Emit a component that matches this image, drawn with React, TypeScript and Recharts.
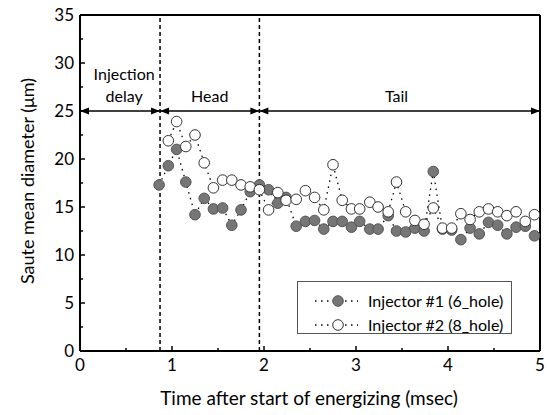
import React from 'react';
import { ComposedChart, Line, XAxis, YAxis, ReferenceLine, ReferenceDot, Legend, Label } from 'recharts';

const timeMs = [0.86, 0.96, 1.05, 1.15, 1.25, 1.35, 1.45, 1.55, 1.65, 1.75, 1.85, 1.95, 2.05, 2.15, 2.24, 2.35, 2.45, 2.55, 2.65, 2.75, 2.85, 2.95, 3.04, 3.15, 3.24, 3.35, 3.44, 3.54, 3.64, 3.74, 3.84, 3.94, 4.04, 4.14, 4.24, 4.34, 4.44, 4.54, 4.64, 4.74, 4.84, 4.94];
const injector1 = [17.3, 19.3, 21.0, 17.6, 14.2, 15.9, 14.8, 14.9, 13.1, 14.7, 16.6, 17.3, 16.8, 15.4, 16.0, 13.0, 13.5, 13.6, 12.7, 13.5, 13.5, 12.9, 13.5, 12.7, 12.7, 14.1, 12.5, 12.4, 12.8, 12.5, 18.7, 12.7, 12.6, 11.6, 12.8, 12.2, 13.4, 13.1, 12.2, 12.9, 13.0, 12.0];
const injector2 = [null, 21.9, 23.9, 21.3, 22.5, 19.6, 17.0, 17.8, 17.8, 17.3, 17.1, 16.8, 14.7, 16.5, 15.7, 15.8, 16.7, 16.0, 14.7, 19.4, 15.7, 14.8, 14.8, 15.5, 15.0, 14.5, 17.6, 14.5, 13.6, 13.2, 14.9, 12.8, 12.8, 14.3, 13.7, 14.5, 14.8, 14.5, 14.1, 14.5, 13.5, 14.2];
const seriesNames = ['Injector #1 (6_hole)', 'Injector #2 (8_hole)'];
const xTicks = [0, 0.5, 1, 1.5, 2, 2.5, 3, 3.5, 4, 4.5, 5];
const yTicks = [0, 2.5, 5, 7.5, 10, 12.5, 15, 17.5, 20, 22.5, 25, 27.5, 30, 32.5, 35];
const phaseBounds = [0, 0.87, 1.95, 5];
const arrowLevel = 25;
const phaseTexts = [
  { x: 0.48, y: 28.85, text: 'Injection' },
  { x: 0.48, y: 26.55, text: 'delay' },
  { x: 1.41, y: 26.55, text: 'Head' },
  { x: 3.44, y: 26.55, text: 'Tail' },
];

const data = timeMs.map((t, i) => ({ t, a: injector1[i], b: injector2[i] }));

const FONT = 'Lato, "Open Sans", sans-serif';
const FILL1 = '#767676';
const STROKE1 = '#555555';

const XTick = (props: any) => {
  const { x, y, payload } = props;
  const v = payload.value;
  const major = Number.isInteger(v);
  return (
    <g>
      <line x1={x} x2={x} y1={y} y2={y - (major ? 5 : 3)} stroke="#000" strokeWidth={1.5} />
      {major && (
        <text x={x} y={y + 20} textAnchor="middle" fontSize={17} fontFamily={FONT} fill="#000">{v}</text>
      )}
    </g>
  );
};

const YTick = (props: any) => {
  const { x, y, payload } = props;
  const v = payload.value;
  const major = v % 5 === 0;
  return (
    <g>
      <line x1={x} x2={x + (major ? 5 : 3)} y1={y} y2={y} stroke="#000" strokeWidth={1.5} />
      {major && (
        <text x={x - 6} y={y} dy="0.35em" textAnchor="end" fontSize={17} fontFamily={FONT} fill="#000">{v}</text>
      )}
    </g>
  );
};

const arrowHead = (dir: number) => (p: any) => {
  const { cx, cy } = p;
  const L = 9, H = 3.5;
  return <path d={`M${cx},${cy} L${cx - dir * L},${cy - H} L${cx - dir * L},${cy + H} Z`} fill="#000" />;
};

const textShape = (text: string) => (p: any) => (
  <text x={p.cx} y={p.cy} dy="0.35em" textAnchor="middle" fontSize={16} fontFamily={FONT} fill="#000">{text}</text>
);

const LegendBox = () => (
  <div style={{ width: 215, height: 53, border: '1px solid #555', boxSizing: 'border-box', background: '#fff' }}>
    <svg width={213} height={51} style={{ display: 'block' }}>
      {[0, 1].map((i) => {
        const yy = i === 0 ? 19 : 43;
        return (
          <g key={i}>
            <line x1={17} x2={60} y1={yy} y2={yy} stroke="#000" strokeWidth={1.3} strokeDasharray="1.5 4.5" />
            <circle cx={40} cy={yy} r={5.3} fill={i === 0 ? FILL1 : '#fff'} stroke={i === 0 ? STROKE1 : '#333'} strokeWidth={1} />
            <text x={70} y={yy} dy="0.35em" fontSize={16} fontFamily={FONT} fill="#000">{seriesNames[i]}</text>
          </g>
        );
      })}
    </svg>
  </div>
);

export default function App() {
  return (
    <div style={{ position: 'absolute', left: 0, top: 0, fontFamily: FONT, background: '#fff' }}>
      <ComposedChart width={547} height={415} data={data} margin={{ top: 15, right: 7, bottom: 0, left: 0 }}>
        <XAxis
          dataKey="t"
          type="number"
          domain={[0, 5]}
          ticks={xTicks}
          interval={0}
          height={64}
          tickSize={0}
          tickMargin={0}
          tickLine={false}
          tick={<XTick />}
          axisLine={{ stroke: '#000', strokeWidth: 2 }}
        >
          <Label
            content={() => (
              <text x={309} y={398} dy="0.35em" textAnchor="middle" fontSize={19} fontFamily={FONT} fill="#000">
                Time after start of energizing (msec)
              </text>
            )}
          />
        </XAxis>
        <YAxis
          type="number"
          domain={[0, 35]}
          ticks={yTicks}
          interval={0}
          width={80}
          tickSize={0}
          tickMargin={0}
          tickLine={false}
          tick={<YTick />}
          axisLine={{ stroke: '#000', strokeWidth: 2 }}
        >
          <Label
            content={() => (
              <text x={28} y={181} dy="0.35em" transform="rotate(-90 28 181)" textAnchor="middle" fontSize={18} fontFamily={FONT} fill="#000">
                Saute mean diameter (μm)
              </text>
            )}
          />
        </YAxis>
        <ReferenceLine y={35} stroke="#000" strokeWidth={2} ifOverflow="visible" />
        <ReferenceLine x={5} stroke="#000" strokeWidth={2} ifOverflow="visible" />
        <ReferenceLine x={phaseBounds[1]} stroke="#000" strokeWidth={1.5} strokeDasharray="4 3" />
        <ReferenceLine x={phaseBounds[2]} stroke="#000" strokeWidth={1.5} strokeDasharray="4 3" />
        {[0, 1, 2].map((i) => (
          <ReferenceLine
            key={`seg${i}`}
            segment={[{ x: phaseBounds[i], y: arrowLevel }, { x: phaseBounds[i + 1], y: arrowLevel }]}
            stroke="#000"
            strokeWidth={1.5}
            ifOverflow="visible"
          />
        ))}
        {[0, 1, 2].map((i) => (
          <ReferenceDot key={`al${i}`} x={phaseBounds[i]} y={arrowLevel} r={0} ifOverflow="visible" shape={arrowHead(-1)} />
        ))}
        {[0, 1, 2].map((i) => (
          <ReferenceDot key={`ar${i}`} x={phaseBounds[i + 1]} y={arrowLevel} r={0} ifOverflow="visible" shape={arrowHead(1)} />
        ))}
        {phaseTexts.map((p, i) => (
          <ReferenceDot key={`pt${i}`} x={p.x} y={p.y} r={0} ifOverflow="visible" shape={textShape(p.text)} />
        ))}
        <Line
          dataKey="a"
          name={seriesNames[0]}
          stroke="#000"
          strokeWidth={1.3}
          strokeDasharray="1.5 4.5"
          dot={{ r: 5.3, fill: FILL1, stroke: STROKE1, strokeWidth: 1, strokeDasharray: 'none' }}
          activeDot={false}
          isAnimationActive={false}
        />
        <Line
          dataKey="b"
          name={seriesNames[1]}
          stroke="#000"
          strokeWidth={1.3}
          strokeDasharray="1.5 4.5"
          dot={{ r: 5.3, fill: '#fff', stroke: '#333', strokeWidth: 1, strokeDasharray: 'none' }}
          activeDot={false}
          isAnimationActive={false}
        />
        <Legend
          layout="vertical"
          align="center"
          verticalAlign="middle"
          wrapperStyle={{ position: 'absolute', left: 297, top: 281, width: 215, height: 53 }}
          content={() => <LegendBox />}
        />
      </ComposedChart>
    </div>
  );
}
